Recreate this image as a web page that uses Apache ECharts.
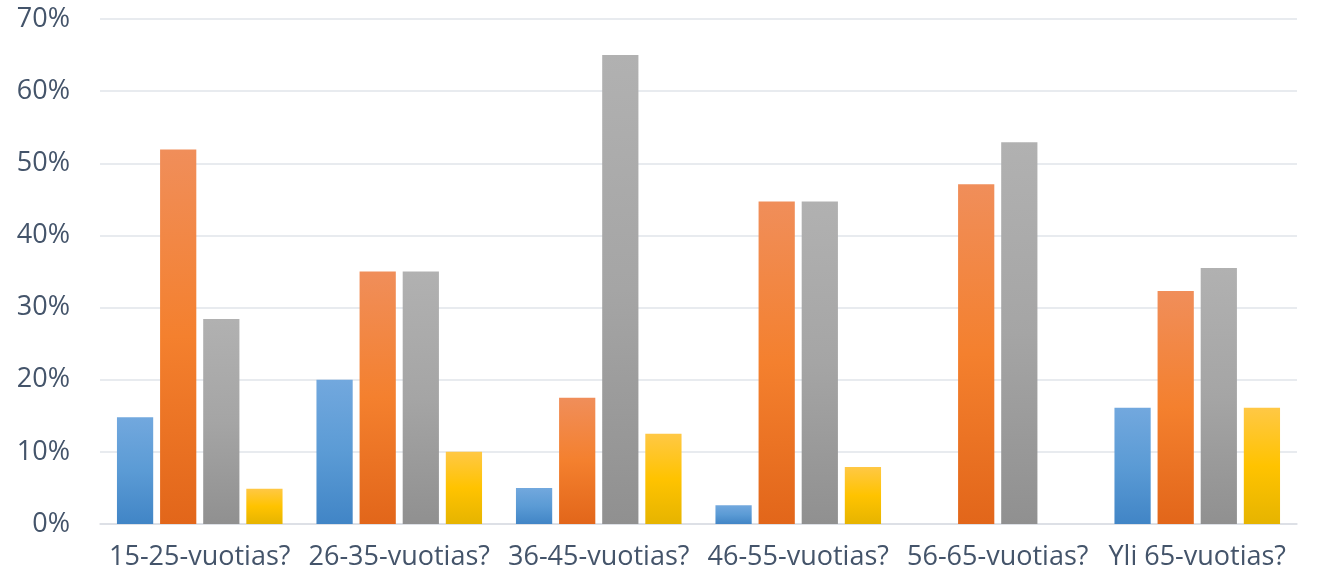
<!DOCTYPE html>
<html>
<head>
<meta charset="utf-8">
<script src="https://cdn.jsdelivr.net/npm/echarts@6/dist/echarts.min.js"></script>
<style>html,body{margin:0;padding:0;background:#fff}#c{width:1319px;height:573px}</style>
</head>
<body>
<div id="c"></div>
<script>
const categories = ['15-25-vuotias?', '26-35-vuotias?', '36-45-vuotias?', '46-55-vuotias?', '56-65-vuotias?', 'Yli 65-vuotias?'];
const series1 = [14.8, 20.0, 5.0, 2.6, 0, 16.1];
const series2 = [51.9, 35.0, 17.5, 44.7, 47.1, 32.3];
const series3 = [28.4, 35.0, 65.0, 44.7, 52.9, 35.5];
const series4 = [4.9, 10.0, 12.5, 7.9, 0, 16.1];
const yTicks = [0, 10, 20, 30, 40, 50, 60, 70];

function grad(top, mid, bot) {
  return new echarts.graphic.LinearGradient(0, 0, 0, 1, [
    {offset: 0, color: top}, {offset: 0.5, color: mid}, {offset: 1, color: bot}
  ]);
}
const colors = [
  grad('#72a8de', '#5b9bd5', '#4185c6'),
  grad('#f08e5a', '#f4802e', '#e2661a'),
  grad('#b1b1b1', '#a5a5a5', '#909090'),
  grad('#ffc845', '#ffc300', '#e6b400')
];
const txt = '#44546a';
const font = 'Open Sans';
const chart = echarts.init(document.getElementById('c'));
chart.setOption({
  animation: false,
  grid: {left: 100, right: 22, top: 19, bottom: 49},
  xAxis: {
    type: 'category',
    data: categories,
    axisLine: {lineStyle: {color: '#d9dde3', width: 1.5}},
    axisTick: {show: false},
    axisLabel: {interval: 0, color: txt, fontSize: 27, fontFamily: font, margin: 20}
  },
  yAxis: {
    type: 'value',
    min: yTicks[0], max: yTicks[yTicks.length - 1], interval: 10,
    axisLine: {show: false},
    axisTick: {show: false},
    splitLine: {lineStyle: {color: '#e1e5ea', width: 1.5}},
    axisLabel: {color: txt, fontSize: 27, fontFamily: font, margin: 30, formatter: v => v + '%'}
  },
  series: [series1, series2, series3, series4].map((d, i) => ({
    type: 'bar',
    data: d,
    barGap: '19%',
    barCategoryGap: '17%',
    itemStyle: {color: colors[i]}
  }))
});
</script>
</body>
</html>
